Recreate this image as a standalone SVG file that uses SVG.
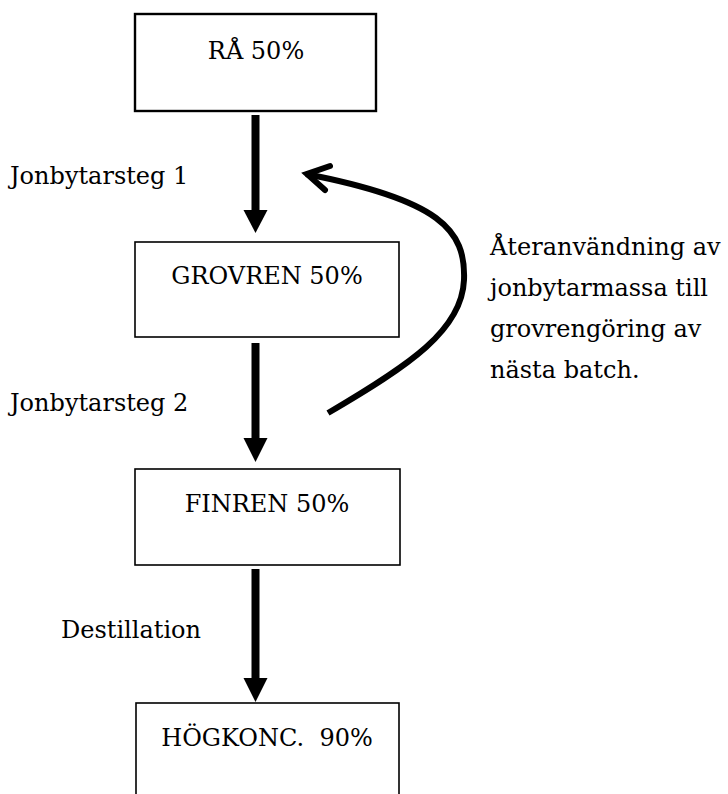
<svg xmlns="http://www.w3.org/2000/svg" width="728" height="794" viewBox="0 0 728 794">
<style>
  text { font-family: "DejaVu Serif", "Liberation Serif", serif; font-size: 24px; fill: #000; }
  .box { fill: #fff; stroke: #000; stroke-width: 1.6; }
  .box1 { stroke-width: 2.4; }
  .shaft { stroke: #000; stroke-width: 8; fill: none; }
  .head { fill: #000; }
  .curve { stroke: #000; stroke-width: 6; fill: none; }
  .mid { text-anchor: middle; }
</style>
<rect width="728" height="794" fill="#fff"/>
<g id="connectors">
  <line class="shaft" x1="255.5" y1="115" x2="255.5" y2="212"/>
  <polygon class="head" points="243.5,210 267.5,210 255.5,233"/>
  <line class="shaft" x1="255.5" y1="343" x2="255.5" y2="440"/>
  <polygon class="head" points="243.5,438 267.5,438 255.5,462"/>
  <line class="shaft" x1="255.5" y1="569" x2="255.5" y2="680"/>
  <polygon class="head" points="243.5,678 267.5,678 255.5,702"/>
  <path class="curve" d="M328,413 C410,365 462,330 464,280 C466,230 440,200 306,174"/>
  <polyline class="curve" points="330,166 307,174 325,190" stroke-linecap="round" stroke-linejoin="miter"/>
</g>
<g id="node-ra">
  <rect class="box box1" x="135" y="14" width="241" height="97"/>
  <text class="mid" x="256" y="59">RÅ 50%</text>
</g>
<g id="node-grovren">
  <rect class="box" x="135" y="242" width="264" height="95"/>
  <text class="mid" x="267" y="284">GROVREN 50%</text>
</g>
<g id="node-finren">
  <rect class="box" x="135" y="469" width="265" height="96"/>
  <text class="mid" x="267" y="512">FINREN 50%</text>
</g>
<g id="node-hogkonc">
  <rect class="box" x="136" y="703" width="263" height="110"/>
  <text class="mid" x="267" y="746" xml:space="preserve">HÖGKONC.  90%</text>
</g>
<g id="labels">
  <text x="10" y="184">Jonbytarsteg 1</text>
  <text x="10" y="411">Jonbytarsteg 2</text>
  <text x="61" y="638">Destillation</text>
  <text x="490" y="255">Återanvändning av</text>
  <text x="490" y="296">jonbytarmassa till</text>
  <text x="490" y="337">grovrengöring av</text>
  <text x="490" y="378">nästa batch.</text>
</g>
</svg>
